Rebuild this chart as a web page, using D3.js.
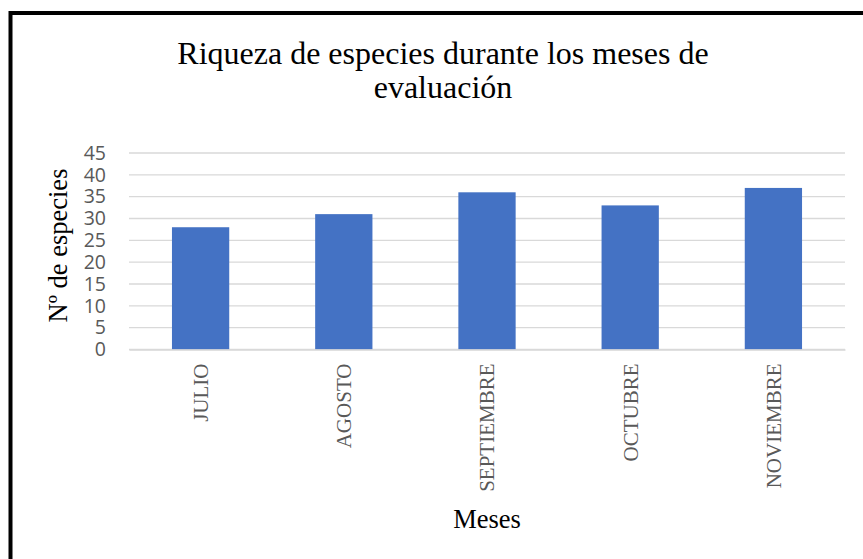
<!DOCTYPE html>
<html>
<head>
<meta charset="utf-8">
<script src="https://cdn.jsdelivr.net/npm/d3@7"></script>
<style>
  body { margin: 0; background: #fff; }
  svg { display: block; }
</style>
</head>
<body>
<div id="chart-container"></div>
<script>
// Data
const months = ["JULIO", "AGOSTO", "SEPTIEMBRE", "OCTUBRE", "NOVIEMBRE"];
const species = [28, 31, 36, 33, 37];
const yTicks = [0, 5, 10, 15, 20, 25, 30, 35, 40, 45];
const titleLines = ["Riqueza de especies durante los meses de", "evaluación"];

const W = 863, H = 559;
const plot = { left: 129, right: 845, top: 153, bottom: 349.5 };

const svg = d3.select("#chart-container")
  .append("svg")
  .attr("width", W)
  .attr("height", H);

svg.append("rect")
  .attr("width", W).attr("height", H)
  .attr("fill", "#fff");

// Outer frame (cut off on right and bottom)
svg.append("rect")
  .attr("x", 10.5).attr("y", 13)
  .attr("width", 900).attr("height", 600)
  .attr("fill", "none")
  .attr("stroke", "#000")
  .attr("stroke-width", 4);

// Scales
const x = d3.scaleBand()
  .domain(months)
  .range([plot.left, plot.right])
  .paddingInner(0.6)
  .paddingOuter(0.3);

const y = d3.scaleLinear()
  .domain([0, 45])
  .range([plot.bottom, plot.top]);

// Horizontal gridlines
svg.selectAll(".grid")
  .data(yTicks)
  .join("line")
  .attr("x1", plot.left)
  .attr("x2", plot.right)
  .attr("y1", d => y(d))
  .attr("y2", d => y(d))
  .attr("stroke", "#d9d9d9")
  .attr("stroke-width", 1.3);

// Y axis
svg.append("g")
  .attr("transform", `translate(${plot.left},0)`)
  .call(d3.axisLeft(y).tickValues(yTicks).tickSize(0).tickPadding(23))
  .call(g => g.select(".domain").remove())
  .selectAll(".tick text")
  .attr("fill", "#595959")
  .style("font-family", "'Open Sans', 'Liberation Sans', sans-serif")
  .style("font-size", "19.5px");

// Bars
svg.selectAll(".bar")
  .data(species)
  .join("rect")
  .attr("x", (d, i) => x(months[i]))
  .attr("y", d => y(d))
  .attr("width", x.bandwidth())
  .attr("height", d => y(0) - y(d))
  .attr("fill", "#4472c4");

// X axis
svg.append("g")
  .attr("transform", `translate(0,${plot.bottom})`)
  .call(d3.axisBottom(x).tickSize(0).tickPadding(0))
  .call(g => g.select(".domain").attr("stroke", "#d9d9d9").attr("stroke-width", 1.3))
  .selectAll(".tick text")
  .attr("transform", "rotate(-90)")
  .attr("x", -14)
  .attr("y", 0)
  .attr("dy", "0.35em")
  .style("text-anchor", "end")
  .attr("fill", "#595959")
  .style("font-family", "'Liberation Serif', 'Times New Roman', serif")
  .style("font-size", "21px");

// Title
svg.selectAll(".title")
  .data(titleLines)
  .join("text")
  .attr("class", "title")
  .attr("x", 443)
  .attr("y", (d, i) => 64 + i * 34)
  .style("text-anchor", "middle")
  .style("font-family", "'Liberation Serif', 'Times New Roman', serif")
  .style("font-size", "32px")
  .attr("fill", "#000")
  .text(d => d);

// Y axis title
svg.append("text")
  .attr("transform", `translate(67,245.5) rotate(-90)`)
  .style("text-anchor", "middle")
  .style("font-family", "'Liberation Serif', 'Times New Roman', serif")
  .style("font-size", "26.5px")
  .attr("fill", "#000")
  .text("Nº de especies");

// X axis title
svg.append("text")
  .attr("x", 487)
  .attr("y", 528)
  .style("text-anchor", "middle")
  .style("font-family", "'Liberation Serif', 'Times New Roman', serif")
  .style("font-size", "26.5px")
  .attr("fill", "#000")
  .text("Meses");
</script>
</body>
</html>
